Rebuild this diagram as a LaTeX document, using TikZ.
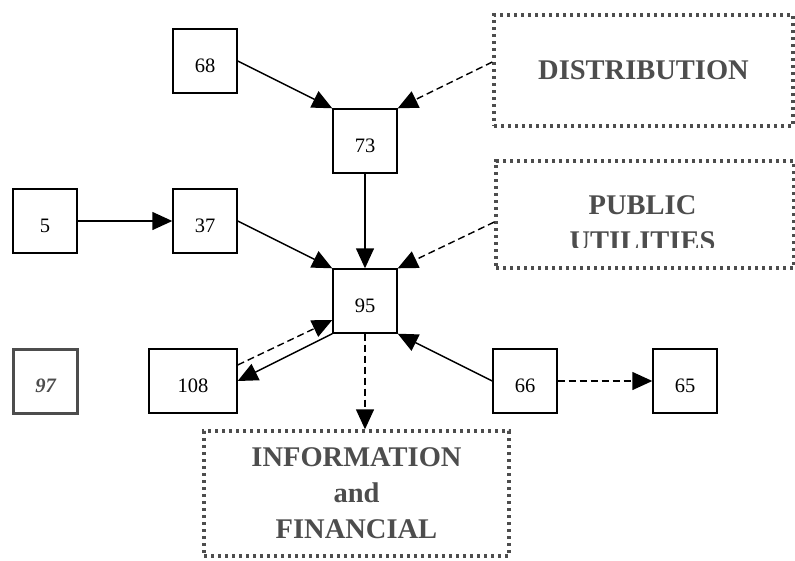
\documentclass[tikz,border=0pt]{standalone}
\usepackage{fontspec}
\setmainfont{Liberation Serif}
\usetikzlibrary{arrows.meta}
\definecolor{sectorgray}{HTML}{4D4D4D}
\tikzset{
  every picture/.style={x=1pt,y=-1pt},
  numbox/.style={draw=black,line width=1.4pt,minimum width=64pt,minimum height=64pt,
    inner sep=0pt,text height=22pt,text depth=0pt,font=\fontsize{20.5}{24}\selectfont},
  sectorbox/.style={draw=sectorgray,line width=3.4pt,dash pattern=on 3.4pt off 3.6pt,
    inner sep=0pt,align=center,text=sectorgray,font=\fontsize{28.5}{36}\selectfont\bfseries},
  flow/.style={line width=1.4pt,-{Triangle[length=20pt,width=18pt]}},
  weakflow/.style={flow,dash pattern=on 7pt off 4pt},
}
\begin{document}
\begin{tikzpicture}
\useasboundingbox (0,0) rectangle (795,560);

% numbered boxes
\node[numbox] (n68) at (205,61) {68};
\node[numbox] (n73) at (365,141) {73};
\node[numbox] (n95) at (365,301) {95};
\node[numbox] (n5) at (45,221) {5};
\node[numbox] (n37) at (205,221) {37};
\node[numbox,minimum width=88pt] (n108) at (193,381) {108};
\node[numbox] (n66) at (525,381) {66};
\node[numbox] (n65) at (685,381) {65};
\node[numbox,draw=sectorgray,line width=3pt,text=sectorgray,
      font=\fontsize{20.5}{24}\selectfont\bfseries\itshape] (n97) at (45.5,381) {97};

% sector boxes
\node[sectorbox,minimum width=299pt,minimum height=111pt] (dist) at (643.5,70.5) {DISTRIBUTION};
\node[sectorbox,minimum width=298pt,minimum height=107pt] (pub) at (645,214.5) {};
\begin{scope}
  \clip (497,162) rectangle (793,247);
  \node[sectorbox,draw=none] (pubtext) at (642.5,223) {PUBLIC\\UTILITIES};
\end{scope}
\node[sectorbox,minimum width=305pt,minimum height=125pt] (info) at (356.5,493.5)
  {INFORMATION\\and\\FINANCIAL};

% connectors
\draw[flow] (n68.east) -- (n73.north west);
\draw[weakflow] ([yshift=8.5pt]dist.west) -- (n73.north east);
\draw[flow] (n73.south) -- (n95.north);
\draw[flow] (n5.east) -- (n37.west);
\draw[flow] (n37.east) -- (n95.north west);
\draw[weakflow] ([yshift=-7.5pt]pub.west) -- (n95.north east);
\draw[flow] (n95.south west) -- (n108.east);
\draw[weakflow] ([yshift=16pt]n108.east) -- ([yshift=-19pt]n95.west);
\draw[weakflow] (n95.south) -- (n95.south |- info.north);
\draw[flow] (n66.west) -- (n95.south east);
\draw[weakflow] (n66.east) -- (n65.west);
\end{tikzpicture}
\end{document}
